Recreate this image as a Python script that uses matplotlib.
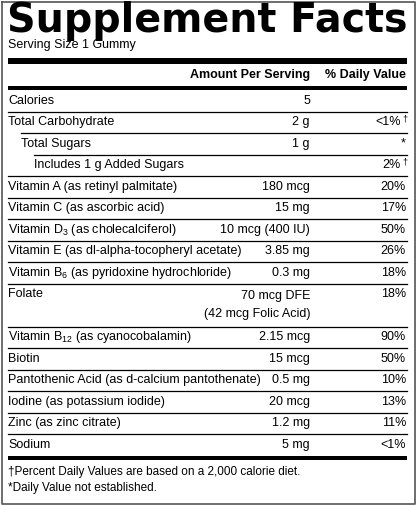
import matplotlib.pyplot as plt

plt.rcParams['font.family'] = ['Liberation Sans', 'DejaVu Sans']
plt.rcParams['mathtext.fontset'] = 'custom'
plt.rcParams['mathtext.rm'] = 'Liberation Sans'
plt.rcParams['mathtext.it'] = 'Liberation Sans'

# label, amount, daily value, dagger flag, indent level
labels = ["Calories", "Total Carbohydrate", "Total Sugars", "Includes 1 g Added Sugars",
          "Vitamin A (as retinyl palmitate)", "Vitamin C (as ascorbic acid)",
          "Vitamin D$_3$ (as cholecalciferol)", "Vitamin E (as dl-alpha-tocopheryl acetate)",
          "Vitamin B$_6$ (as pyridoxine hydrochloride)", "Folate",
          "Vitamin B$_{12}$ (as cyanocobalamin)", "Biotin",
          "Pantothenic Acid (as d-calcium pantothenate)", "Iodine (as potassium iodide)",
          "Zinc (as zinc citrate)", "Sodium"]
amounts = ["5", "2 g", "1 g", "", "180 mcg", "15 mg", "10 mcg (400 IU)", "3.85 mg", "0.3 mg",
           "70 mcg DFE\n(42 mcg Folic Acid)", "2.15 mcg", "15 mcg", "0.5 mg", "20 mcg", "1.2 mg", "5 mg"]
dvs = ["", "<1%", "*", "2%", "20%", "17%", "50%", "26%", "18%", "18%", "90%", "50%", "10%",
       "13%", "11%", "<1%"]
daggers = [False, True, False, True] + [False] * 12
indents = [0, 0, 1, 2] + [0] * 12
row_heights = [21.5] * 9 + [43] + [21.5] * 6

FS = 9
fig = plt.figure(figsize=(4.16, 5.05), dpi=100)
ax = fig.add_axes([0, 0, 1, 1])
ax.set_xlim(0, 416)
ax.set_ylim(505, 0)
ax.axis('off')

# outer frame
ax.plot([1.5, 414.5, 414.5, 1.5, 1.5], [1.5, 1.5, 503.5, 503.5, 1.5], color='#555555', lw=1.2)

L, R = 8, 407
ax.text(L - 1, 21, "Supplement Facts", fontsize=28.5, fontweight='heavy',
        family=['DejaVu Sans'], va='center', ha='left')
ax.text(L, 45, "Serving Size 1 Gummy", fontsize=FS, va='center')
ax.fill_between([L, R], 58, 64, color='black', lw=0)
ax.text(310, 75, "Amount Per Serving", fontsize=FS, fontweight='bold', ha='right', va='center')
ax.text(R - 1, 75, "% Daily Value", fontsize=FS, fontweight='bold', ha='right', va='center')
ax.fill_between([L, R], 86, 90, color='black', lw=0)

y = 90
for i, lab in enumerate(labels):
    h = row_heights[i]
    yc = y + 10.7
    x0 = L + 13 * indents[i]
    ax.text(x0, yc, lab, fontsize=FS, va='center', ha='left')
    ax.text(310, yc if '\n' not in amounts[i] else y + h / 2, amounts[i], fontsize=FS,
            va='center', ha='right', linespacing=1.75)
    if daggers[i]:
        ax.text(R - 6, yc, dvs[i], fontsize=FS, va='center', ha='right')
        ax.text(R, yc - 3, "†", fontsize=6.5, va='center', ha='right')
    else:
        ax.text(R - 1, yc, dvs[i], fontsize=FS, va='center', ha='right')
    y += h
    if i < len(labels) - 1:
        lx = L + 13 * indents[i + 1] if indents[i + 1] > 0 else L
        ax.plot([lx, R], [y, y], color='black', lw=0.9)

ax.fill_between([L, R], y, y + 4, color='black', lw=0)
ax.text(L, y + 17, "†Percent Daily Values are based on a 2,000 calorie diet.", fontsize=8.5, va='center')
ax.text(L, y + 32, "*Daily Value not established.", fontsize=8.5, va='center')

fig.savefig("out.png", dpi=100)
